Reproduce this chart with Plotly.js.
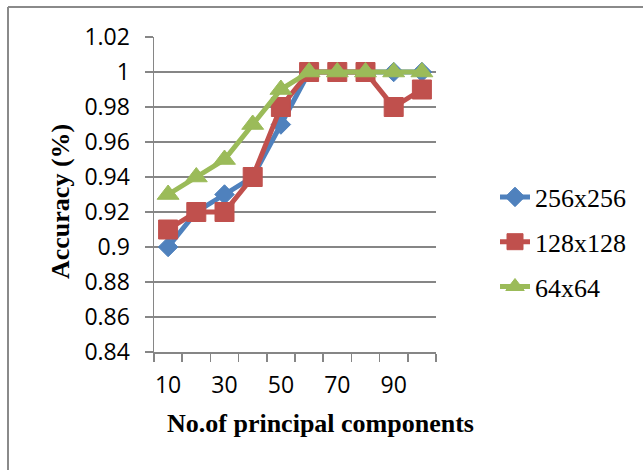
<!DOCTYPE html>
<html>
<head>
<meta charset="utf-8">
<script src="https://cdn.plot.ly/plotly-3.0.1.min.js"></script>
<style>
html,body{margin:0;padding:0;background:#fff;}
#chart{width:643px;height:470px;}
</style>
</head>
<body>
<div id="chart"></div>
<script>
const components = [10, 20, 30, 40, 50, 60, 70, 80, 90, 100];
const acc256 = [0.90, 0.92, 0.93, 0.94, 0.97, 1.00, 1.00, 1.00, 1.00, 1.00];
const acc128 = [0.91, 0.92, 0.92, 0.94, 0.98, 1.00, 1.00, 1.00, 0.98, 0.99];
const acc64  = [0.93, 0.94, 0.95, 0.97, 0.99, 1.00, 1.00, 1.00, 1.00, 1.00];
const seriesNames = ['256x256', '128x128', '64x64'];
const xTickVals = [10, 30, 50, 70, 90];
const xTickText = ['10', '30', '50', '70', '90'];
const yTickVals = [0.84, 0.86, 0.88, 0.90, 0.92, 0.94, 0.96, 0.98, 1.00, 1.02];
const yTickText = ['0.84', '0.86', '0.88', '0.9', '0.92', '0.94', '0.96', '0.98', '1', '1.02'];
const xTitle = 'No.of principal components';
const yTitle = 'Accuracy (%)';

const colors = ['#4F81BD', '#C0504D', '#9BBB59'];
const symbols = ['diamond', 'square', 'triangle-up'];
const sizes = [15, 19, 19];
const data = [acc256, acc128, acc64].map((ys, i) => ({
  type: 'scatter', mode: 'lines+markers',
  x: components, y: ys, name: seriesNames[i], legendgroup: 'g' + i,
  line: {color: colors[i], width: 5},
  marker: {color: colors[i], symbol: symbols[i], size: sizes[i], line: {color: colors[i], width: 1}}
}));

const L = 154, R = 436, T = 37, B = 352;
const W = 643, H = 470;
const pw = R - L, ph = B - T;
const px = v => (v - L) / pw;
const py = v => (B - v) / ph;
const tickFont = {family: '"Open Sans", Lato, sans-serif', size: 23, color: '#000'};

const layout = {
  width: W, height: H,
  margin: {l: L, r: W - R, t: T, b: H - B, pad: 0},
  paper_bgcolor: '#ffffff', plot_bgcolor: '#ffffff',
  showlegend: true,
  legend: {
    x: px(495), xanchor: 'left', y: py(242), yanchor: 'middle',
    font: {family: '"Liberation Serif", "Times New Roman", serif', size: 26, color: '#000'},
    tracegroupgap: 8, bgcolor: 'rgba(0,0,0,0)', borderwidth: 0
  },
  xaxis: {
    type: 'linear', range: [5, 105], fixedrange: true,
    tickmode: 'array', tickvals: xTickVals, ticktext: xTickText,
    ticks: '', showgrid: false, zeroline: false,
    showline: true, linecolor: '#868686', linewidth: 1.5,
    ticklabelstandoff: 12,
    tickfont: tickFont,
    minor: {tickmode: 'array', tickvals: [5, 15, 25, 35, 45, 55, 65, 75, 85, 95, 105],
            ticks: 'outside', ticklen: 8, tickwidth: 1.5, tickcolor: '#868686', showgrid: false}
  },
  yaxis: {
    range: [0.84, 1.02], fixedrange: true,
    tickmode: 'array', tickvals: yTickVals, ticktext: yTickText,
    ticks: 'outside', ticklen: 8, tickwidth: 1.5, tickcolor: '#868686',
    showgrid: true, gridcolor: '#868686', gridwidth: 1.5, zeroline: false,
    showline: true, linecolor: '#868686', linewidth: 1.5,
    ticklabelstandoff: 10,
    tickfont: tickFont
  },
  annotations: [
    {text: '<b>' + xTitle + '</b>', xref: 'paper', yref: 'paper', x: px(320), y: py(423),
     xanchor: 'center', yanchor: 'middle', showarrow: false,
     font: {family: '"Liberation Serif", "Times New Roman", serif', size: 26, color: '#000'}},
    {text: '<b>' + yTitle + '</b>', xref: 'paper', yref: 'paper', x: px(60), y: py(202),
     xanchor: 'center', yanchor: 'middle', showarrow: false, textangle: -90,
     font: {family: '"Liberation Serif", "Times New Roman", serif', size: 26, color: '#000'}}
  ],
  shapes: [
    {type: 'line', xref: 'paper', yref: 'paper', x0: px(8), x1: px(8), y0: py(7), y1: py(480),
     line: {color: '#8a8a8a', width: 2}},
    {type: 'line', xref: 'paper', yref: 'paper', x0: px(8), x1: px(660), y0: py(7), y1: py(7),
     line: {color: '#8a8a8a', width: 2}}
  ]
};

Plotly.newPlot('chart', data, layout, {displayModeBar: false, staticPlot: true});
</script>
</body>
</html>
